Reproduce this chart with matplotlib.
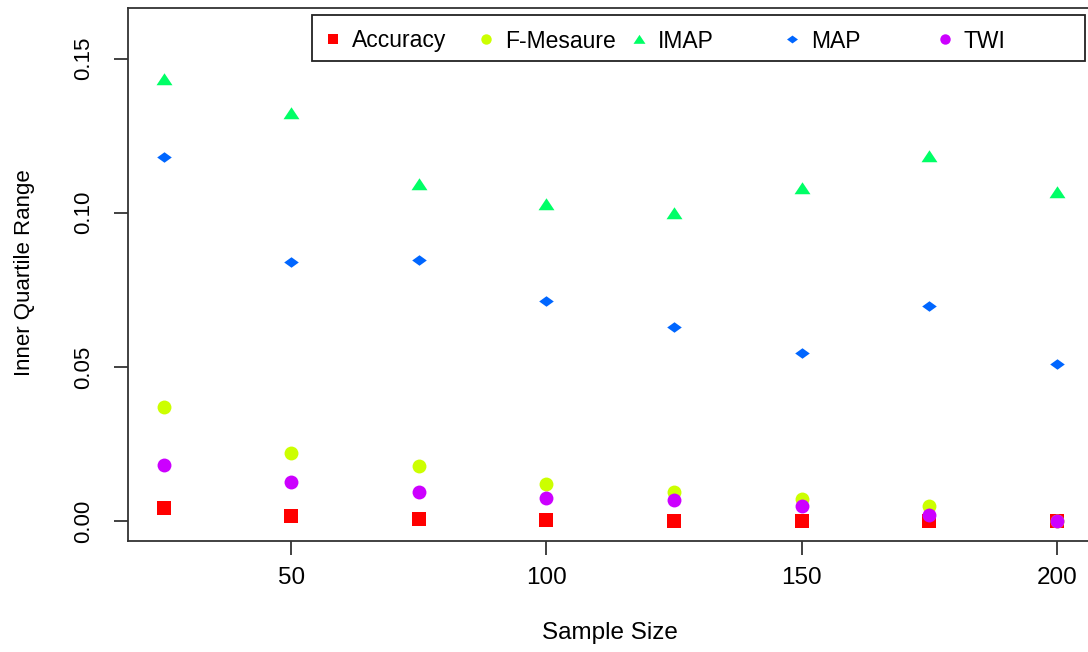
import matplotlib
matplotlib.use("Agg")
import matplotlib.pyplot as plt
from matplotlib.patches import Rectangle

# sample sizes on the x axis
sample_size = [25, 50, 75, 100, 125, 150, 175, 200]

# inner quartile range of each measure
accuracy = [0.0042, 0.0016, 0.0008, 0.0004, 0.0002, 0.0002, 0.0000, 0.0000]
f_mesaure = [0.0370, 0.0220, 0.0180, 0.0122, 0.0095, 0.0072, 0.0049, 0.0000]
imap = [0.1434, 0.1322, 0.1093, 0.1029, 0.1000, 0.1082, 0.1184, 0.1068]
map_ = [0.1182, 0.0839, 0.0847, 0.0714, 0.0630, 0.0544, 0.0698, 0.0509]
twi = [0.0184, 0.0127, 0.0095, 0.0074, 0.0069, 0.0048, 0.0020, 0.0000]

names = ["Accuracy", "F-Mesaure", "IMAP", "MAP", "TWI"]
colors = ["#FF0000", "#CCFF00", "#00FF66", "#0066FF", "#CC00FF"]

plt.rcParams["font.family"] = ["Liberation Sans", "DejaVu Sans"]

# squashed shapes like R's pch 17 / 18
tri = [(-1, -0.72), (1, -0.72), (0, 0.78), (-1, -0.72)]
dia = [(-1, 0), (0, 0.72), (1, 0), (0, -0.72), (-1, 0)]

series = [
    (accuracy, "s", 10.0),
    (f_mesaure, "o", 10.0),
    (imap, tri, 11.5),
    (map_, dia, 10.5),
    (twi, "o", 10.0),
]

fig = plt.figure(figsize=(10.88, 6.52), dpi=100)
ax = fig.add_axes([127.8 / 1088, 1 - 541 / 652, 965 / 1088, 533 / 652])

for (vals, mk, ms), col in zip(series, colors):
    ax.plot(sample_size, vals, linestyle="none", marker=mk, markersize=ms,
            color=col, markeredgewidth=0)

ax.set_xlim(18, 207)
ax.set_ylim(-0.0064, 0.1664)
ax.set_xticks([50, 100, 150, 200])
ax.set_yticks([0.0, 0.05, 0.10, 0.15])
ax.set_yticklabels(["0.00", "0.05", "0.10", "0.15"], rotation=90, va="center")
ax.tick_params(axis="both", length=10, width=1.3, color="#333333")
ax.tick_params(axis="x", pad=9, labelsize=17.5)
ax.tick_params(axis="y", pad=14, labelsize=16)
for s in ax.spines.values():
    s.set_linewidth(1.3)
    s.set_color("#333333")

fig.text(610 / 1088, 1 - 633 / 652, "Sample Size", fontsize=17.5, ha="center", va="center")
fig.text(25 / 1088, 1 - 273 / 652, "Inner Quartile Range", fontsize=16,
         rotation=90, ha="center", va="center")

# legend box drawn R-style
fig.patches.append(Rectangle((312 / 1088, 1 - 61 / 652), (1085 - 312) / 1088, 46 / 652,
                             transform=fig.transFigure, fill=False,
                             edgecolor="#222222", linewidth=1.3))
for i, ((vals, mk, ms), col, name) in enumerate(zip(series, colors, names)):
    mx = (333 + 153 * i) / 1088
    my = 1 - 39 / 652
    fig.add_artist(plt.Line2D([mx], [my], transform=fig.transFigure, linestyle="none",
                              marker=mk, markersize=ms * 0.75, color=col,
                              markeredgewidth=0))
    fig.text(mx + 19 / 1088, 1 - 41 / 652, name, fontsize=16.5, ha="left", va="center")

fig.savefig("out.png", dpi=100)
